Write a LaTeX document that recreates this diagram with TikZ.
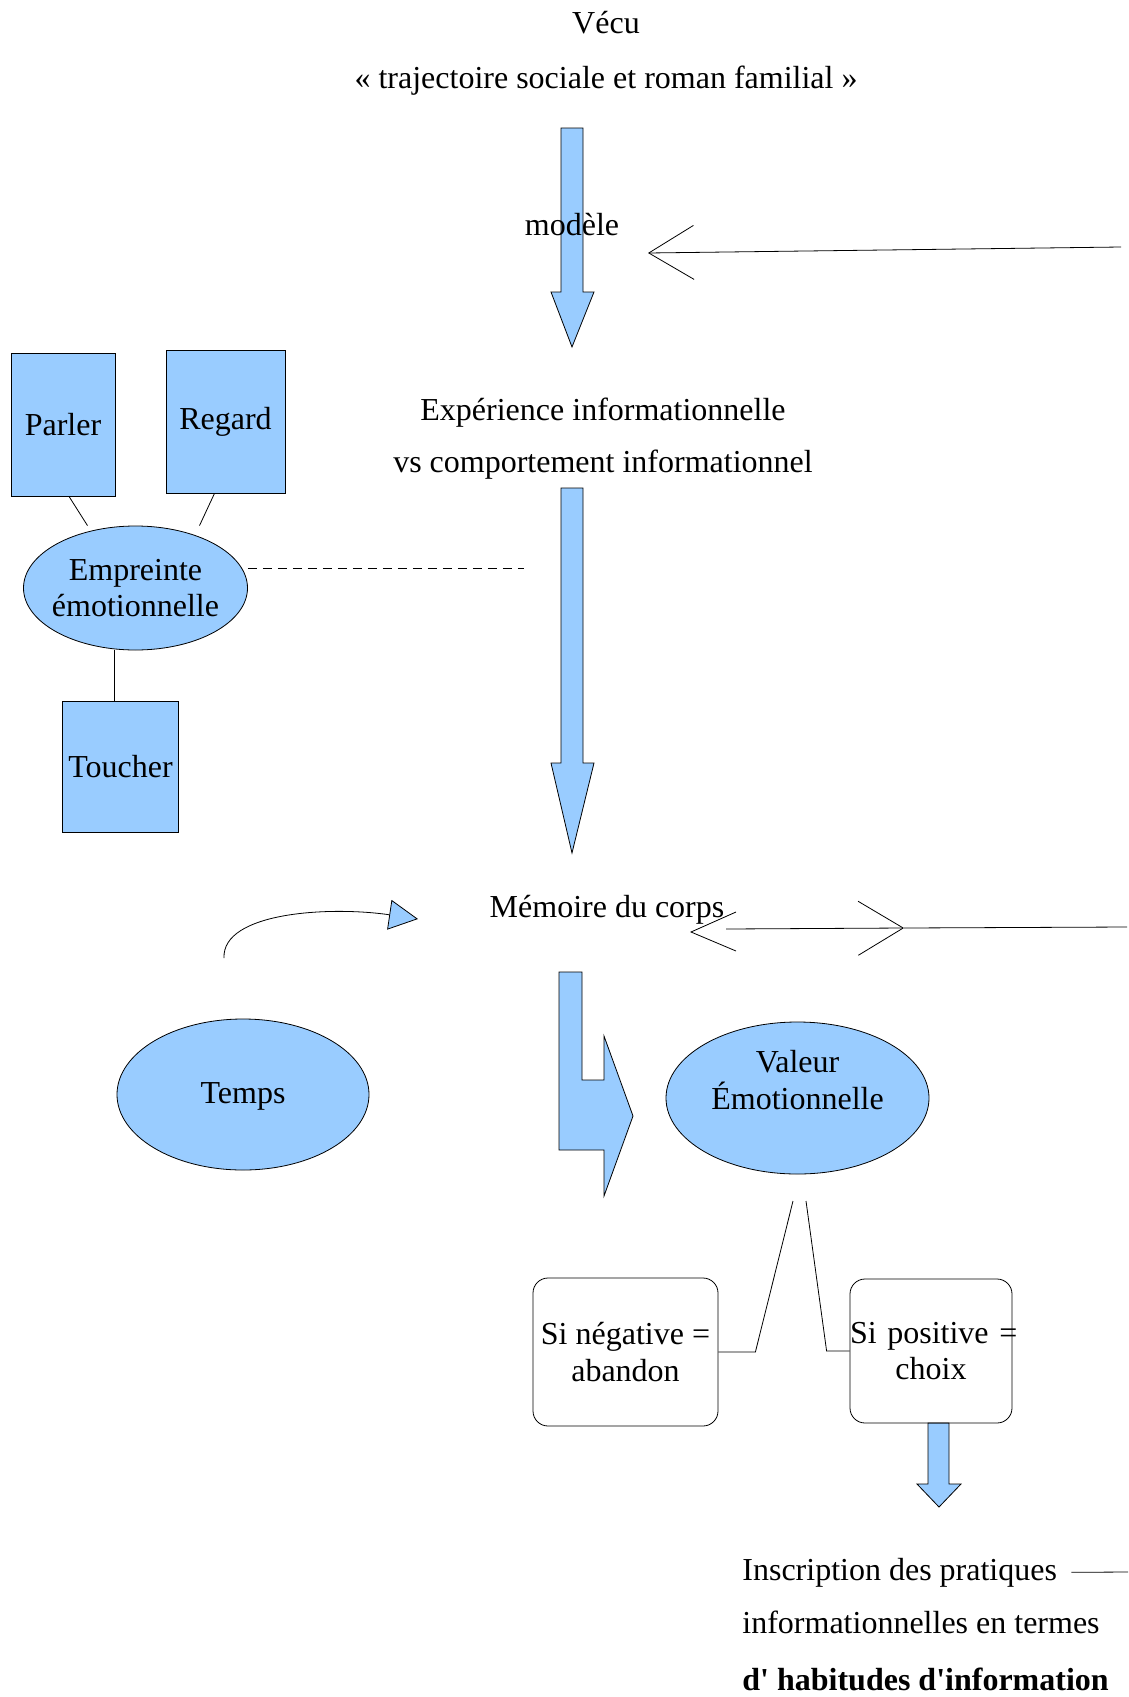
\documentclass[tikz,border=0pt]{standalone}
\usepackage{fontspec}
\setmainfont{Liberation Serif}
\usetikzlibrary{positioning, arrows.meta, shapes.geometric}
\definecolor{sky}{HTML}{99CCFF}

\begin{document}
\begin{tikzpicture}[
    x=1pt, y=-1pt,
    line width=0.8pt,
    font=\fontsize{32}{36.5}\selectfont,
    txt/.style={inner sep=0pt, anchor=base},
    sense/.style={rectangle, draw=black, fill=sky, inner sep=0pt},
    oval/.style={ellipse, draw=black, fill=sky, inner sep=0pt},
    choice/.style={rectangle, draw=black, rounded corners=15pt, inner sep=0pt, align=center},
    block/.style={draw=black, fill=sky, line join=miter},
    barb/.style={-{Straight Barb[length=45pt, width=54pt]}}
  ]
  \fill[white] (0,0) rectangle (1128,1697);
  \useasboundingbox (0,0) rectangle (1128,1697);

  % block arrows
  \draw[block] (561,128) -- (583,128) -- (583,292) -- (594,292) -- (572,347) -- (551,292) -- (561,292) -- cycle;
  \draw[block] (561,488) -- (583,488) -- (583,763) -- (594,763) -- (572,853) -- (551,763) -- (561,763) -- cycle;
  \draw[block] (559,972) -- (582,972) -- (582,1080) -- (604,1080) -- (604,1036) -- (633,1116)
    -- (604,1196) -- (604,1150) -- (559,1150) -- cycle;
  \draw[block] (928,1423) -- (949,1423) -- (949,1484) -- (961,1484) -- (939,1507) -- (917,1484) -- (928,1484) -- cycle;

  % texts
  \node[txt] (vecu) at (606,33) {Vécu};
  \node[txt] (traj) at (606,88) {« trajectoire sociale et roman familial »};
  \node[txt] (modele) at (572,235) {modèle};
  \node[txt] (exp) at (603,420) {Expérience informationnelle};
  \node[txt] (vs) at (603,472) {vs comportement informationnel};
  \node[txt] (memoire) at (607,917) {Mémoire du corps};
  \node[txt, anchor=base west] (insc1) at (742,1580) {Inscription des pratiques};
  \node[txt, anchor=base west] (insc2) at (742,1633) {informationnelles en termes};
  \node[txt, anchor=base west] (insc3) at (742,1690) {\bfseries d\textquotesingle{} habitudes d\textquotesingle{}information};

  % senses
  \node[sense, minimum width=104pt, minimum height=143pt] (parler) at (63,424.5) {Parler};
  \node[sense, minimum width=119pt, minimum height=143pt] (regard) at (225.5,421.5) {Regard};
  \node[oval, minimum width=224pt, minimum height=124pt,
        label={[align=center, inner sep=0pt]center:Empreinte\\émotionnelle}] (empreinte) at (135.5,588) {};
  \node[sense, minimum width=116pt, minimum height=131pt] (toucher) at (120.5,766.5) {Toucher};

  \coordinate (dashend) at (524,568);
  \draw ([xshift=6pt]parler.south) -- ([xshift=-48pt]empreinte.north);
  \draw ([xshift=-11pt]regard.south) -- ([xshift=64pt]empreinte.north);
  \draw ([xshift=-21pt]empreinte.south) -- ([xshift=-21pt]empreinte.south |- toucher.north);
  \draw[dash pattern=on 9pt off 6pt] ([yshift=20pt]empreinte.east) -- (dashend);

  % time and value
  \node[oval, minimum width=252pt, minimum height=151pt, text depth=3pt] (temps) at (243,1094.5) {Temps};
  \node[oval, minimum width=263pt, minimum height=152pt,
        label={[align=center, inner sep=0pt, yshift=18pt]center:Valeur\\Émotionnelle}] (valeur) at (797.5,1098) {};
  \node[choice, minimum width=185pt, minimum height=148pt] (neg) at (625.5,1352) {Si négative =\\abandon};
  \node[choice, minimum width=162pt, minimum height=144pt, text width=162pt] (pos) at (931,1351) {\mbox{Si positive =}\\choix};

  \coordinate (vl) at (793,1201);
  \coordinate (vr) at (806,1201);
  \draw (neg.east) -- ++(37,0) -- (vl);
  \draw (pos.west) -- ++(-23,0) -- (vr);

  \coordinate (tstart) at (224,958);
  \coordinate (ttip) at (418,919);
  \draw[-{Triangle[length=29pt, width=30pt, fill=sky]}] (tstart) .. controls (222,912) and (330,906) .. (ttip);

  % open arrows from the right
  \coordinate (modfrom) at (1121,247);
  \coordinate (modtip) at (648,253);
  \draw[barb] (modfrom) -- (modtip);

  \coordinate (mfrom) at (1127,927);
  \coordinate (mmid) at (904,928);
  \coordinate (mstart) at (726,929);
  \coordinate (mleft) at (691,932);
  \draw[barb] (mstart) -- (mmid);
  \draw (mmid) -- (mfrom);
  \draw ([shift={(45,-20)}]mleft) -- (mleft) -- ([shift={(45,19)}]mleft);

  \coordinate (inscend) at (1128,1572);
  \draw ([xshift=14pt]insc1.east) -- (inscend);
\end{tikzpicture}
\end{document}
